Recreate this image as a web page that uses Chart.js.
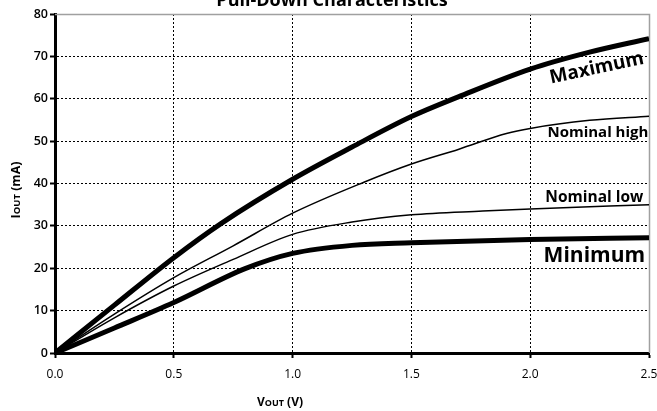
<!DOCTYPE html>
<html lang="en">
<head>
<meta charset="UTF-8">
<title>Pull-Down Characteristics</title>
<script src="https://cdn.jsdelivr.net/npm/chart.js"></script>
<style>
    body { margin: 0; background: #fff; }
    #chart { display: block; }
</style>
</head>
<body>
<canvas id="chart" width="657" height="411"></canvas>
<script>
    // curves: Vout in volts, Iout in mA
    const maxVout = [0, 0.25, 0.5, 0.7, 1.0, 1.25, 1.5, 1.7, 2.0, 2.25, 2.5];
    const maxIout = [0, 11.3, 22.5, 30.6, 41.0, 48.6, 55.8, 60.5, 67.0, 71.0, 74.2];

    const nomHighVout = [0, 0.25, 0.5, 0.75, 1.0, 1.3, 1.5, 1.7, 1.9, 2.0, 2.25, 2.5];
    const nomHighIout = [0, 9.2, 17.8, 25.3, 33.0, 40.3, 44.6, 48.1, 51.8, 53.0, 54.9, 55.9];

    const nomLowVout = [0, 0.25, 0.5, 0.75, 1.0, 1.25, 1.5, 1.8, 2.0, 2.5];
    const nomLowIout = [0, 8.3, 15.8, 22.1, 28.0, 30.9, 32.6, 33.5, 34.0, 35.0];

    const minVout = [0, 0.25, 0.5, 0.8, 1.0, 1.25, 1.5, 2.0, 2.5];
    const minIout = [0, 5.9, 11.9, 19.9, 23.5, 25.4, 26.0, 26.8, 27.2];

    const seriesNames = ["Maximum", "Nominal high", "Nominal low", "Minimum"];

    // tick labels
    const xTicks = [0, 0.5, 1.0, 1.5, 2.0, 2.5];
    const yTicks = [0, 10, 20, 30, 40, 50, 60, 70, 80];

    const FONT = "'Open Sans', 'DejaVu Sans', sans-serif";

    function toPoints(xs, ys) {
        return xs.map((x, i) => ({ x: x, y: ys[i] }));
    }

    // where the curve names sit, in data units (V, mA)
    const labelSpots = [
        { text: seriesNames[0], v: 2.28, i: 67.2, size: 19, angle: -12 },
        { text: seriesNames[1], v: 2.285, i: 52.0, size: 15, angle: 0 },
        { text: seriesNames[2], v: 2.27, i: 36.6, size: 15.5, angle: 0 },
        { text: seriesNames[3], v: 2.27, i: 22.9, size: 21, angle: 0 }
    ];

    // draws text where part of it is in smaller capitals (IOUT, VOUT)
    function drawMixed(ctx, parts, cx, cy) {
        let total = 0;
        parts.forEach(p => {
            ctx.font = "bold " + p[1] + "px " + FONT;
            total += ctx.measureText(p[0]).width;
        });
        let x = cx - total / 2;
        parts.forEach(p => {
            ctx.font = "bold " + p[1] + "px " + FONT;
            ctx.fillText(p[0], x, cy);
            x += ctx.measureText(p[0]).width;
        });
    }

    const decorations = {
        id: 'decorations',
        beforeDatasetsDraw(chart) {
            const { ctx, chartArea } = chart;
            // grey frame on top and right
            ctx.save();
            ctx.strokeStyle = "#a0a0a0";
            ctx.lineWidth = 1.5;
            ctx.beginPath();
            ctx.moveTo(chartArea.left, chartArea.top + 0.5);
            ctx.lineTo(chartArea.right + 0.5, chartArea.top + 0.5);
            ctx.lineTo(chartArea.right + 0.5, chartArea.bottom);
            ctx.stroke();
            ctx.restore();
        },
        afterDraw(chart) {
            const { ctx, scales } = chart;
            ctx.save();
            ctx.fillStyle = "#000";
            ctx.textBaseline = "alphabetic";

            // title, partly cut off by the top edge
            ctx.textAlign = "center";
            ctx.font = "bold 18px " + FONT;
            ctx.fillText("Pull-Down Characteristics", 332, 6);

            // axis titles
            ctx.textAlign = "left";
            drawMixed(ctx, [["V", 12], ["OUT", 9], [" (V)", 12]], 280, 406);
            ctx.save();
            ctx.translate(20, 190);
            ctx.rotate(-Math.PI / 2);
            drawMixed(ctx, [["I", 12.5], ["OUT", 9.5], [" (mA)", 12.5]], 0, 0);
            ctx.restore();

            // curve names
            ctx.textAlign = "center";
            ctx.textBaseline = "middle";
            labelSpots.forEach(s => {
                const px = scales.x.getPixelForValue(s.v);
                const py = scales.y.getPixelForValue(s.i);
                ctx.save();
                ctx.translate(px, py);
                ctx.rotate(s.angle * Math.PI / 180);
                ctx.font = "bold " + s.size + "px " + FONT;
                ctx.fillText(s.text, 0, 0);
                ctx.restore();
            });
            ctx.restore();
        }
    };

    function lineSet(name, xs, ys, width) {
        return {
            label: name,
            data: toPoints(xs, ys),
            borderColor: "#000",
            backgroundColor: "#000",
            borderWidth: width,
            pointRadius: 0,
            cubicInterpolationMode: "monotone",
            fill: false
        };
    }

    new Chart(document.getElementById("chart"), {
        type: "line",
        data: {
            datasets: [
                lineSet(seriesNames[0], maxVout, maxIout, 5),
                lineSet(seriesNames[1], nomHighVout, nomHighIout, 1.5),
                lineSet(seriesNames[2], nomLowVout, nomLowIout, 1.5),
                lineSet(seriesNames[3], minVout, minIout, 5)
            ]
        },
        options: {
            responsive: false,
            animation: false,
            devicePixelRatio: 1,
            layout: { padding: { left: 0, top: 14, right: 8, bottom: 0 } },
            plugins: {
                legend: { display: false },
                tooltip: { enabled: false },
                title: { display: false }
            },
            scales: {
                x: {
                    type: "linear",
                    min: 0,
                    max: 2.5,
                    afterBuildTicks: s => { s.ticks = xTicks.map(v => ({ value: v })); },
                    afterFit: s => { s.height = 58; s.paddingLeft = 0; s.paddingRight = 0; },
                    ticks: {
                        color: "#000",
                        font: { family: FONT, size: 12 },
                        padding: 9,
                        maxRotation: 0,
                        callback: v => v.toFixed(1)
                    },
                    grid: {
                        color: ctx => (ctx.tick && ctx.tick.value === 2.5) ? "rgba(0,0,0,0)" : "#000",
                        lineWidth: 1,
                        tickLength: 5,
                        tickColor: "#000",
                        tickWidth: 2
                    },
                    border: { color: "#000", width: 3, dash: [2, 2] }
                },
                y: {
                    type: "linear",
                    min: 0,
                    max: 80,
                    afterBuildTicks: s => { s.ticks = yTicks.map(v => ({ value: v })); },
                    afterFit: s => { s.width = 55; },
                    ticks: {
                        color: "#000",
                        font: { family: FONT, size: 12.5, weight: "600" },
                        padding: 2
                    },
                    grid: {
                        color: ctx => (ctx.tick && ctx.tick.value === 80) ? "rgba(0,0,0,0)" : "#000",
                        lineWidth: 1,
                        tickLength: 5,
                        tickColor: "#000",
                        tickWidth: 2
                    },
                    border: { color: "#000", width: 3, dash: [2, 2] }
                }
            }
        },
        plugins: [decorations]
    });
</script>
</body>
</html>
